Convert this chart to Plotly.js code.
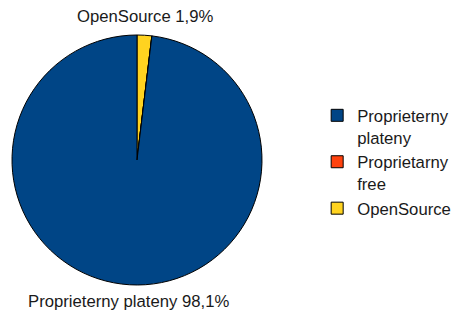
<!DOCTYPE html>
<html><head><meta charset="utf-8">
<script src="https://cdn.plot.ly/plotly-3.0.1.min.js"></script>
<style>html,body{margin:0;padding:0;background:#fff}</style>
</head><body><div id="chart" style="width:459px;height:314px"></div>
<script>
// listed in drawing order (clockwise from 12 o'clock); legend shows them reversed
const categories = ['OpenSource', 'Proprietarny free', 'Proprieterny plateny'];
const legendLabels = ['OpenSource', 'Proprietarny<br>free', 'Proprieterny<br>plateny'];
const values = [1.9, 0, 98.1];
const colors = ['#ffd320', '#ff420e', '#004586'];
const shownLabels = [2, 0];
const labelPos = [{x: 128.5, y: 301}, {x: 145.5, y: 17}];

const total = values.reduce((a, b) => a + b, 0);
const fmt = v => (v / total * 100).toFixed(1).replace('.', ',') + '%';
const font = {family: 'Liberation Sans, Arial, sans-serif', size: 16.7, color: '#1a1a1a'};

const annotations = shownLabels.map((i, k) => ({
  xref: 'paper', yref: 'paper',
  x: labelPos[k].x / 459, y: 1 - labelPos[k].y / 314,
  xanchor: 'center', yanchor: 'middle',
  text: categories[i] + ' ' + fmt(values[i]),
  showarrow: false, font: font
}));

Plotly.newPlot('chart', [{
  type: 'pie',
  labels: legendLabels,
  values: values,
  textinfo: 'none',
  hoverinfo: 'none',
  sort: false,
  direction: 'clockwise',
  marker: {colors: colors, line: {color: '#000', width: 1}},
  domain: {x: [12/459, 262/459], y: [29/314, 279/314]}
}], {
  width: 459, height: 314,
  margin: {l: 0, r: 0, t: 0, b: 0},
  paper_bgcolor: '#fff',
  showlegend: true,
  annotations: annotations,
  legend: {x: 0.691, y: 0.688, xanchor: 'left', yanchor: 'top', traceorder: 'reversed',
    valign: 'top', font: font, itemwidth: 30, tracegroupgap: 0}
}, {displayModeBar: false, staticPlot: true});
</script></body></html>
